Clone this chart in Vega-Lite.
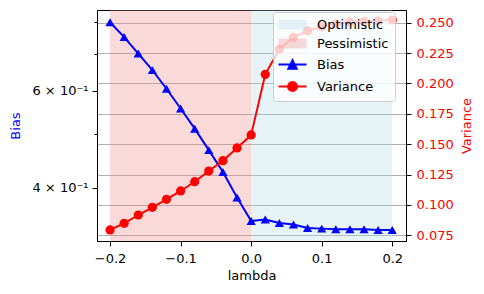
{
  "$schema": "https://vega.github.io/schema/vega-lite/v6.json",
  "width": 309,
  "height": 231,
  "autosize": {"type": "none"},
  "padding": {"left": 97, "top": 10, "right": 78, "bottom": 53},
  "config": {
    "font": "DejaVu Sans",
    "view": {"stroke": "black", "strokeWidth": 1},
    "axis": {
      "labelFont": "DejaVu Sans", "titleFont": "DejaVu Sans",
      "labelFontSize": 13, "titleFontSize": 13, "titleFontWeight": "normal",
      "labelColor": "black", "titleColor": "black",
      "domainColor": "black", "tickColor": "black", "tickSize": 5, "tickWidth": 1,
      "grid": false
    },
    "legend": {"labelFont": "DejaVu Sans", "labelFontSize": 13}
  },
  "datasets": {
    "regions": [
      {"region": "Optimistic", "start": 0.0, "end": 0.2},
      {"region": "Pessimistic", "start": -0.2, "end": 0.0}
    ],
    "curves": [
      {"lambda": -0.2, "bias": 0.799, "variance": 0.0794},
      {"lambda": -0.18, "bias": 0.751, "variance": 0.0849},
      {"lambda": -0.16, "bias": 0.701, "variance": 0.0917},
      {"lambda": -0.14, "bias": 0.654, "variance": 0.098},
      {"lambda": -0.12, "bias": 0.605, "variance": 0.1046},
      {"lambda": -0.1, "bias": 0.557, "variance": 0.1115},
      {"lambda": -0.08, "bias": 0.512, "variance": 0.1191},
      {"lambda": -0.06, "bias": 0.468, "variance": 0.1279},
      {"lambda": -0.04, "bias": 0.427, "variance": 0.1364},
      {"lambda": -0.02, "bias": 0.384, "variance": 0.1469},
      {"lambda": 0.0, "bias": 0.348, "variance": 0.1576},
      {"lambda": 0.02, "bias": 0.350, "variance": 0.2075},
      {"lambda": 0.04, "bias": 0.345, "variance": 0.2283},
      {"lambda": 0.06, "bias": 0.343, "variance": 0.238},
      {"lambda": 0.08, "bias": 0.338, "variance": 0.2434},
      {"lambda": 0.1, "bias": 0.337, "variance": 0.2467},
      {"lambda": 0.12, "bias": 0.336, "variance": 0.2489},
      {"lambda": 0.14, "bias": 0.336, "variance": 0.2506},
      {"lambda": 0.16, "bias": 0.336, "variance": 0.2511},
      {"lambda": 0.18, "bias": 0.335, "variance": 0.2516},
      {"lambda": 0.2, "bias": 0.335, "variance": 0.2522}
    ]
  },
  "layer": [
    {
      "data": {"name": "regions"},
      "mark": {"type": "rect", "opacity": 0.3},
      "encoding": {
        "x": {"field": "start", "type": "quantitative",
              "scale": {"domain": [-0.2185, 0.2195], "nice": false, "zero": false},
              "axis": {"title": "lambda", "values": [-0.2, -0.1, 0, 0.1, 0.2], "format": ".1f",
                       "labelExpr": "replace(datum.label, '-', '\u2212')", "labelPadding": 6, "titlePadding": 4}},
        "x2": {"field": "end"},
        "color": {"field": "region", "type": "nominal",
                  "scale": {"domain": ["Optimistic", "Pessimistic", "Bias", "Variance"],
                            "range": ["#add8e6", "#f08080", "blue", "red"]},
                  "legend": {
                    "title": null, "orient": "none", "legendX": 176, "legendY": 2,
                    "padding": 6, "symbolSize": 196, "labelOffset": 25, "rowPadding": 5,
                    "fillColor": "rgba(255,255,255,0.8)", "strokeColor": "#cccccc", "cornerRadius": 3,
                    "encode": {
                      "symbols": {"update": {
                        "shape": {"signal": "datum.value === 'Bias' ? 'M-1,0H3M1,-0.6L1.6,0.6L0.4,0.6Z' : datum.value === 'Variance' ? 'M-1,0H3M0.36,0A0.64,0.64,0,1,1,1.64,0A0.64,0.64,0,1,1,0.36,0Z' : 'M-1,-0.7H3V0.7H-1Z'"},
                        "fill": {"signal": "datum.value === 'Bias' ? 'blue' : datum.value === 'Variance' ? 'red' : datum.value === 'Optimistic' ? '#add8e6' : '#f08080'"},
                        "fillOpacity": {"signal": "datum.value === 'Optimistic' || datum.value === 'Pessimistic' ? 0.3 : 1"},
                        "stroke": {"signal": "datum.value === 'Bias' ? 'blue' : datum.value === 'Variance' ? 'red' : 'transparent'"},
                        "strokeWidth": {"signal": "datum.value === 'Optimistic' || datum.value === 'Pessimistic' ? 0 : 2"},
                        "size": {"value": 196},
                        "opacity": {"value": 1}
                      }}
                    }
                  }}
      }
    },
    {
      "data": {"name": "curves"},
      "layer": [
        {
          "mark": {"type": "line", "strokeWidth": 2, "point": {"shape": "triangle-up", "size": 85, "filled": true, "opacity": 1}},
          "encoding": {
            "x": {"field": "lambda", "type": "quantitative"},
            "y": {"field": "bias", "type": "quantitative",
                  "scale": {"type": "log", "domain": [0.32, 0.841], "nice": false, "zero": false},
                  "axis": {"orient": "left", "title": "Bias", "titleColor": "blue",
                           "values": [0.4, 0.5, 0.6, 0.7, 0.8],
                           "labelExpr": "datum.value == 0.4 ? '4 \u00d7 10\u207b\u00b9' : datum.value == 0.6 ? '6 \u00d7 10\u207b\u00b9' : ''",
                           "tickSize": {"condition": {"test": "datum.value == 0.4 || datum.value == 0.6", "value": 5}, "value": 3},
                           "labelPadding": 4, "titlePadding": 9}},
            "color": {"datum": "Bias", "type": "nominal",
                  "legend": {
                    "title": null, "orient": "none", "legendX": 176, "legendY": 2,
                    "padding": 6, "symbolSize": 196, "labelOffset": 25, "rowPadding": 5,
                    "fillColor": "rgba(255,255,255,0.8)", "strokeColor": "#cccccc", "cornerRadius": 3,
                    "encode": {
                      "symbols": {"update": {
                        "shape": {"signal": "datum.value === 'Bias' ? 'M-1,0H3M1,-0.6L1.6,0.6L0.4,0.6Z' : datum.value === 'Variance' ? 'M-1,0H3M0.36,0A0.64,0.64,0,1,1,1.64,0A0.64,0.64,0,1,1,0.36,0Z' : 'M-1,-0.7H3V0.7H-1Z'"},
                        "fill": {"signal": "datum.value === 'Bias' ? 'blue' : datum.value === 'Variance' ? 'red' : datum.value === 'Optimistic' ? '#add8e6' : '#f08080'"},
                        "fillOpacity": {"signal": "datum.value === 'Optimistic' || datum.value === 'Pessimistic' ? 0.3 : 1"},
                        "stroke": {"signal": "datum.value === 'Bias' ? 'blue' : datum.value === 'Variance' ? 'red' : 'transparent'"},
                        "strokeWidth": {"signal": "datum.value === 'Optimistic' || datum.value === 'Pessimistic' ? 0 : 2"},
                        "size": {"value": 196},
                        "opacity": {"value": 1}
                      }}
                    }
                  }}
          }
        },
        {
          "mark": {"type": "line", "strokeWidth": 2, "point": {"shape": "circle", "size": 85, "filled": true, "opacity": 1}},
          "encoding": {
            "x": {"field": "lambda", "type": "quantitative"},
            "y": {"field": "variance", "type": "quantitative",
                  "scale": {"domain": [0.0703, 0.2605], "nice": false, "zero": false},
                  "axis": {"orient": "right", "title": "Variance", "titleColor": "red", "labelColor": "red",
                           "values": [0.075, 0.1, 0.125, 0.15, 0.175, 0.2, 0.225, 0.25], "format": ".3f",
                           "grid": true, "gridColor": "#b0b0b0", "gridWidth": 1,
                           "labelPadding": 5, "titlePadding": 7, "titleAngle": 270, "titleBaseline": "top"}},
            "color": {"datum": "Variance", "type": "nominal",
                  "legend": {
                    "title": null, "orient": "none", "legendX": 176, "legendY": 2,
                    "padding": 6, "symbolSize": 196, "labelOffset": 25, "rowPadding": 5,
                    "fillColor": "rgba(255,255,255,0.8)", "strokeColor": "#cccccc", "cornerRadius": 3,
                    "encode": {
                      "symbols": {"update": {
                        "shape": {"signal": "datum.value === 'Bias' ? 'M-1,0H3M1,-0.6L1.6,0.6L0.4,0.6Z' : datum.value === 'Variance' ? 'M-1,0H3M0.36,0A0.64,0.64,0,1,1,1.64,0A0.64,0.64,0,1,1,0.36,0Z' : 'M-1,-0.7H3V0.7H-1Z'"},
                        "fill": {"signal": "datum.value === 'Bias' ? 'blue' : datum.value === 'Variance' ? 'red' : datum.value === 'Optimistic' ? '#add8e6' : '#f08080'"},
                        "fillOpacity": {"signal": "datum.value === 'Optimistic' || datum.value === 'Pessimistic' ? 0.3 : 1"},
                        "stroke": {"signal": "datum.value === 'Bias' ? 'blue' : datum.value === 'Variance' ? 'red' : 'transparent'"},
                        "strokeWidth": {"signal": "datum.value === 'Optimistic' || datum.value === 'Pessimistic' ? 0 : 2"},
                        "size": {"value": 196},
                        "opacity": {"value": 1}
                      }}
                    }
                  }}
          }
        }
      ],
      "resolve": {"scale": {"y": "independent"}}
    }
  ],
  "resolve": {"scale": {"y": "independent"}}
}
